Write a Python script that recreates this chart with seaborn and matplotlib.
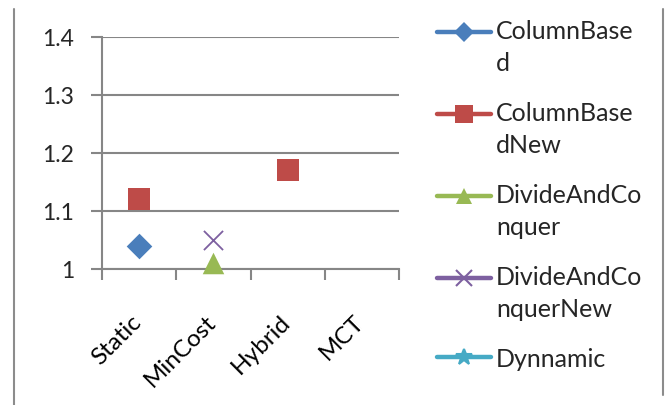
import numpy as np
import pandas as pd
import matplotlib
matplotlib.use("Agg")
import matplotlib.pyplot as plt
from matplotlib.lines import Line2D
from matplotlib.legend_handler import HandlerLine2D
import matplotlib.transforms as mtransforms
import seaborn as sns

categories = ["Static", "MinCost", "Hybrid", "MCT"]
series_names = ["ColumnBased", "ColumnBasedNew", "DivideAndConquer",
                "DivideAndConquerNew", "Dynnamic"]
legend_labels = ["ColumnBase\nd", "ColumnBase\ndNew", "DivideAndCo\nnquer",
                 "DivideAndCo\nnquerNew", "Dynnamic"]
column_based = [1.04, np.nan, np.nan, np.nan]
column_based_new = [1.12, np.nan, 1.17, np.nan]
divide_and_conquer = [np.nan, 1.01, np.nan, np.nan]
divide_and_conquer_new = [np.nan, 1.05, np.nan, np.nan]
dynnamic = [np.nan, np.nan, np.nan, np.nan]
y_ticks = [1.0, 1.1, 1.2, 1.3, 1.4]
y_tick_labels = ["1", "1.1", "1.2", "1.3", "1.4"]

colors = ["#4A7EBB", "#BE4B48", "#98B954", "#7D60A0", "#46AAC5"]
markers = ["D", "s", "^", "x", "*"]
sizes = [170, 260, 240, 190, 150]
legend_marker_sizes = [10, 13, 12, 11, 12]

sns.set_theme(style="white")
plt.rcParams["font.family"] = ["Lato", "DejaVu Sans"]

values = [column_based, column_based_new, divide_and_conquer,
          divide_and_conquer_new, dynnamic]
rows = []
for name, vals in zip(series_names, values):
    for i, (c, v) in enumerate(zip(categories, vals)):
        rows.append({"series": name, "category": c, "pos": i, "value": v})
df = pd.DataFrame(rows)

fig = plt.figure(figsize=(6.68, 4.06), dpi=100)
ax = fig.add_axes([102 / 668, 1 - 270 / 406, 297 / 668, 232 / 406])

for name, col, mk, sz in zip(series_names, colors, markers, sizes):
    sub = df[(df["series"] == name) & df["value"].notna()]
    if len(sub) == 0:
        continue
    lw = 1.3 if mk == "x" else 0
    sns.scatterplot(data=sub, x="pos", y="value", ax=ax, color=col,
                    marker=mk, s=sz, linewidth=lw, edgecolor=col if mk != "x" else None,
                    legend=False, zorder=3, clip_on=False)

ax.set_xlim(-0.5, len(categories) - 0.5)
ax.set_ylim(1.0, 1.4)
ax.set_yticks(y_ticks)
ax.set_yticklabels(y_tick_labels)
ax.set_xticks(range(len(categories)))
ax.set_xticklabels(categories, rotation=45, ha="right", va="center",
                   rotation_mode="anchor")
ax.set_xticks(np.arange(-0.5, len(categories), 1.0), minor=True)
ax.tick_params(axis="x", which="major", length=0, pad=35, labelsize=17.5, colors="black")
ax.tick_params(axis="x", which="minor", length=8, width=1.5, color="#868686", bottom=True)
ax.tick_params(axis="y", which="major", length=8, width=1.5, color="#868686",
               left=True, labelsize=16.5, pad=12)
offset = mtransforms.ScaledTranslation(-1 / 100, 0, fig.dpi_scale_trans)
for lbl in ax.get_xticklabels():
    lbl.set_transform(lbl.get_transform() + offset)
ax.set_xlabel("")
ax.set_ylabel("")
ax.grid(axis="y", color="#868686", linewidth=1.5)
ax.grid(axis="x", visible=False)
for side in ["top", "right"]:
    ax.spines[side].set_visible(False)
for side in ["left", "bottom"]:
    ax.spines[side].set_color("#868686")
    ax.spines[side].set_linewidth(1.5)
ax.set_axisbelow(True)


class FirstLineHandler(HandlerLine2D):
    def __init__(self, shift, **kw):
        super().__init__(**kw)
        self.shift = shift

    def create_artists(self, legend, orig_handle, xdescent, ydescent,
                       width, height, fontsize, trans):
        return super().create_artists(legend, orig_handle, xdescent, ydescent,
                                      width, height + 2 * self.shift,
                                      fontsize, trans)


handles = []
handler_map = {}
for col, mk, ms, lab in zip(colors, markers, legend_marker_sizes, legend_labels):
    h = Line2D([0], [0], color=col, linewidth=3.2, marker=mk,
               markersize=ms, markeredgecolor=col,
               markeredgewidth=1.5 if mk in ("x", "*") else 0,
               solid_capstyle="round")
    handles.append(h)
    handler_map[h] = FirstLineHandler(11 if "\n" in lab else 0)
leg = fig.legend(handles, legend_labels, loc="upper left",
                 bbox_to_anchor=(437 / 668, 1 - 20 / 406), frameon=False,
                 fontsize=18, handlelength=2.15, handletextpad=0.2,
                 labelspacing=1.1, borderaxespad=0, borderpad=0,
                 handler_map=handler_map)
for t in leg.get_texts():
    t.set_linespacing(1.45)

fig.add_artist(Line2D([14 / 668, 14 / 668], [0, 1 - 10 / 406],
                      color="#8c8c8c", linewidth=1.5))
fig.add_artist(Line2D([663 / 668, 663 / 668], [1 - 396 / 406, 1 - 10 / 406],
                      color="#8c8c8c", linewidth=1.5))

fig.savefig("out.png", dpi=100)
